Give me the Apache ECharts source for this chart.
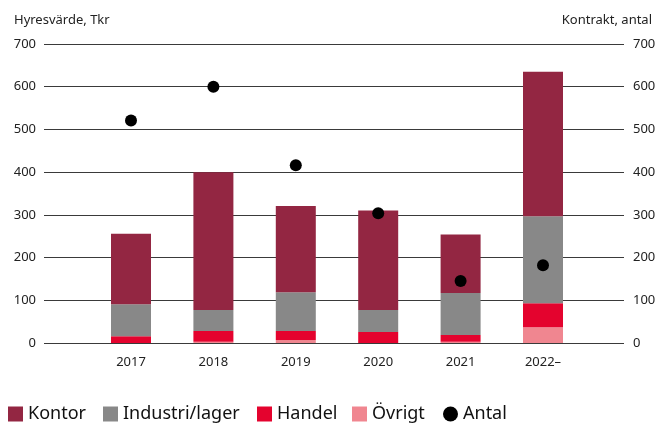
<!DOCTYPE html>
<html>
<head>
<meta charset="utf-8">
<script src="https://cdn.jsdelivr.net/npm/echarts@6/dist/echarts.min.js"></script>
<style>
  html, body { margin: 0; padding: 0; background: #fff; }
  #main { width: 662px; height: 424px; }
</style>
</head>
<body>
<div id="main"></div>
<script>
// empty slots at both ends so the years sit where the original puts them
var years = ['', '2017', '2018', '2019', '2020', '2021', '2022\u2013', ''];
var kontor = ['-', 165, 323, 202, 233, 137, 338, '-'];
var industri = ['-', 75, 49, 91, 51, 98, 204, '-'];
var handel = ['-', 16, 25, 21, 26, 16, 56, '-'];
var ovrigt = ['-', 0, 3, 7, 0, 3, 37, '-'];
var antal = ['-', 521, 600, 416, 304, 145, 182, '-'];

var legendNames = ['Kontor', 'Industri/lager', 'Handel', 'Övrigt', 'Antal'];
var legendLeft = [8, 103, 257, 352, 443];

var font = 'Noto Sans';
var chart = echarts.init(document.getElementById('main'));

// one legend per item so the spacing follows the original
var legends = legendNames.map(function (n, i) {
  return {
    left: legendLeft[i], top: 405, padding: 0,
    itemWidth: 15, itemHeight: 15, itemGap: 4,
    textStyle: { fontSize: 18, color: '#111', fontFamily: font },
    data: [{ name: n, icon: n === 'Antal' ? 'circle' : 'rect' }]
  };
});

var option = {
  animation: false,
  textStyle: { fontFamily: font },
  title: [
    { text: 'Hyresvärde, Tkr', left: 9, top: 9,
      textStyle: { fontSize: 13, fontWeight: 'normal', color: '#222', fontFamily: font } },
    { text: 'Kontrakt, antal', right: 5, top: 9,
      textStyle: { fontSize: 13, fontWeight: 'normal', color: '#222', fontFamily: font } }
  ],
  legend: legends,
  grid: [
    { left: 44, right: 38, top: 44, bottom: 81 },
    { left: 48.6, right: 36.6, top: 44, bottom: 81 }
  ],
  xAxis: [
    { gridIndex: 0, type: 'value', min: 0, max: 1, show: false },
    { gridIndex: 1, type: 'category', data: years, boundaryGap: false,
      axisLine: { show: false }, axisTick: { show: false },
      axisLabel: { color: '#222', fontSize: 13, margin: 13, interval: 0 } }
  ],
  yAxis: [
    { gridIndex: 0, type: 'value', min: 0, max: 700, interval: 100,
      axisLine: { show: false }, axisTick: { show: false },
      axisLabel: { color: '#222', fontSize: 13, margin: 8 },
      splitLine: { lineStyle: { color: '#3a3a3a', width: 1 } } },
    { gridIndex: 0, type: 'value', position: 'right', min: 0, max: 700, interval: 100,
      axisLine: { show: false }, axisTick: { show: false },
      axisLabel: { color: '#222', fontSize: 13, margin: 9 },
      splitLine: { show: false } },
    { gridIndex: 1, type: 'value', min: 0, max: 700, show: false, splitLine: { show: false } }
  ],
  series: [
    { name: 'Övrigt', type: 'bar', stack: 'v', xAxisIndex: 1, yAxisIndex: 2,
      barWidth: 40, itemStyle: { color: '#f08690' }, data: ovrigt },
    { name: 'Handel', type: 'bar', stack: 'v', xAxisIndex: 1, yAxisIndex: 2,
      barWidth: 40, itemStyle: { color: '#e4032e' }, data: handel },
    { name: 'Industri/lager', type: 'bar', stack: 'v', xAxisIndex: 1, yAxisIndex: 2,
      barWidth: 40, itemStyle: { color: '#888888' }, data: industri },
    { name: 'Kontor', type: 'bar', stack: 'v', xAxisIndex: 1, yAxisIndex: 2,
      barWidth: 40, itemStyle: { color: '#932642' }, data: kontor },
    { name: 'Antal', type: 'scatter', xAxisIndex: 1, yAxisIndex: 2,
      symbolSize: 12, itemStyle: { color: '#000', opacity: 1 }, data: antal, z: 5 }
  ]
};

chart.setOption(option);
</script>
</body>
</html>
